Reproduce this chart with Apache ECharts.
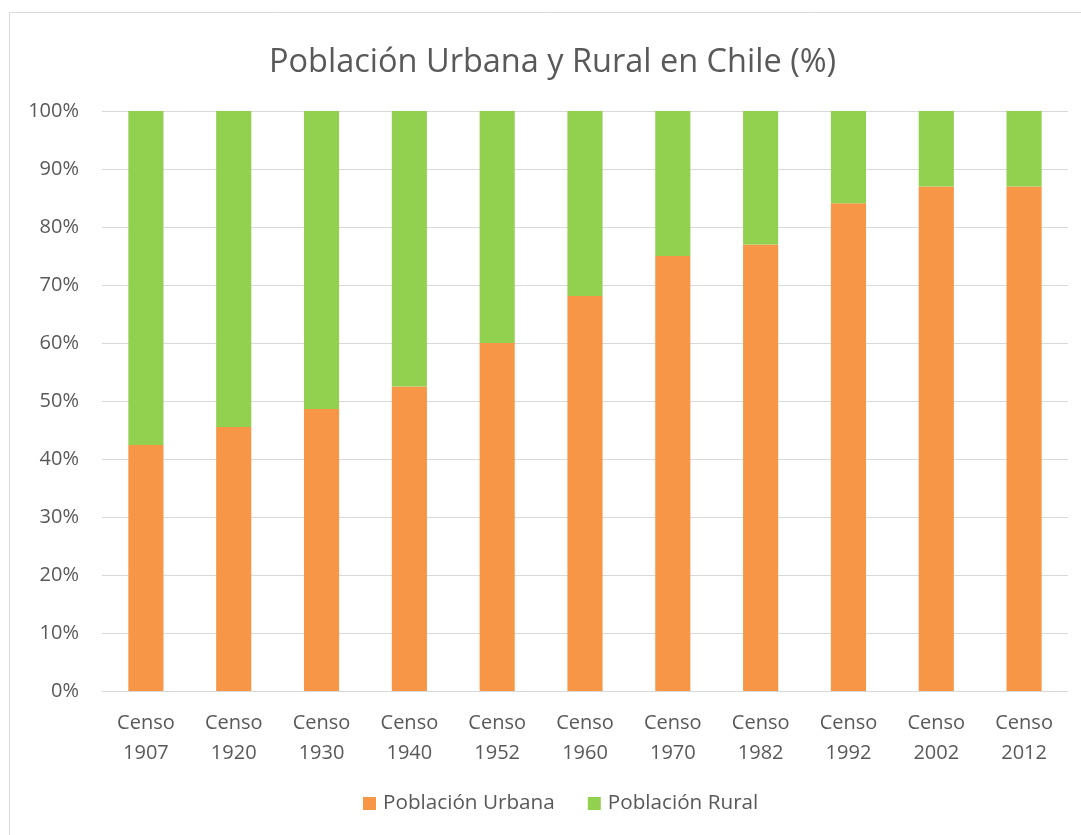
<!DOCTYPE html>
<html>
<head>
<meta charset="utf-8">
<script src="https://cdn.jsdelivr.net/npm/echarts@6/dist/echarts.min.js"></script>
<style>
  html, body { margin: 0; padding: 0; background: #fff; }
  #chart { width: 1081px; height: 835px; }
</style>
</head>
<body>
<div id="chart"></div>
<script>
// datos del censo (porcentajes)
var censos = ['Censo\n1907', 'Censo\n1920', 'Censo\n1930', 'Censo\n1940', 'Censo\n1952', 'Censo\n1960',
  'Censo\n1970', 'Censo\n1982', 'Censo\n1992', 'Censo\n2002', 'Censo\n2012'];
var urbana = [42.4, 45.5, 48.6, 52.5, 60.0, 68.1, 75.0, 77.0, 84.1, 87.0, 87.0];
var rural = [57.6, 54.5, 51.4, 47.5, 40.0, 31.9, 25.0, 23.0, 15.9, 13.0, 13.0];
var yTicks = [0, 10, 20, 30, 40, 50, 60, 70, 80, 90, 100];

var fuente = 'Open Sans';
var gris = '#595959';

var myChart = echarts.init(document.getElementById('chart'));
var option = {
  animation: false,
  backgroundColor: '#fff',
  graphic: [{
    type: 'rect',
    shape: { x: 9.5, y: 12.5, width: 1090, height: 840 },
    style: { fill: 'none', stroke: '#d9d9d9', lineWidth: 1 },
    silent: true
  }],
  title: {
    text: 'Población Urbana y Rural en Chile (%)',
    left: 264,
    top: 41,
    textStyle: { fontFamily: fuente, fontSize: 32.5, fontWeight: 'normal', color: gris }
  },
  legend: {
    bottom: 16,
    left: 358,
    itemWidth: 13,
    itemHeight: 13,
    itemGap: 33,
    icon: 'rect',
    textStyle: { fontFamily: fuente, fontSize: 20.7, color: gris, padding: [0, 0, 0, 2] },
    data: ['Población Urbana', 'Población Rural']
  },
  grid: { left: 102, right: 13, top: 111, bottom: 144 },
  xAxis: {
    type: 'category',
    data: censos,
    axisLine: { show: true, lineStyle: { color: '#d9d9d9', width: 1 } },
    axisTick: { show: false },
    axisLabel: {
      margin: 17,
      interval: 0,
      fontFamily: fuente,
      fontSize: 20,
      lineHeight: 30,
      color: gris
    }
  },
  yAxis: {
    type: 'value',
    min: yTicks[0],
    max: yTicks[yTicks.length - 1],
    interval: 10,
    axisLine: { show: false },
    axisTick: { show: false },
    splitLine: { lineStyle: { color: '#d9d9d9', width: 1 } },
    axisLabel: {
      margin: 23,
      fontFamily: fuente,
      fontSize: 20,
      color: gris,
      formatter: function(v) { return v + '%'; }
    }
  },
  series: [{
    name: 'Población Urbana',
    type: 'bar',
    stack: 'total',
    barCategoryGap: '60%',
    itemStyle: { color: '#f79646' },
    data: urbana
  }, {
    name: 'Población Rural',
    type: 'bar',
    stack: 'total',
    barCategoryGap: '60%',
    itemStyle: { color: '#92d050' },
    data: rural
  }]
};
myChart.setOption(option);
</script>
</body>
</html>
